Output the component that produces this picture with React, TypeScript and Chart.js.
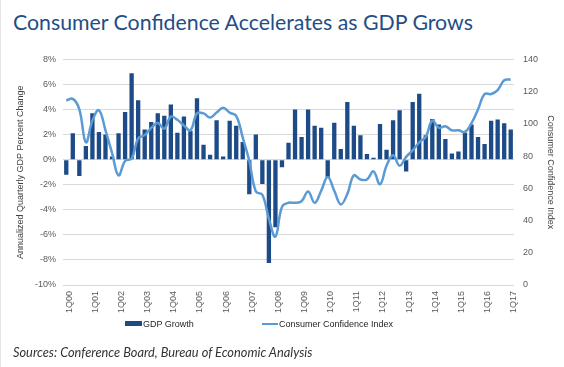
import React, { useEffect, useRef } from "react";
import { Chart, registerables } from "chart.js";

Chart.register(...registerables);

const QUARTERS = [
  "1Q00","2Q00","3Q00","4Q00","1Q01","2Q01","3Q01","4Q01",
  "1Q02","2Q02","3Q02","4Q02","1Q03","2Q03","3Q03","4Q03",
  "1Q04","2Q04","3Q04","4Q04","1Q05","2Q05","3Q05","4Q05",
  "1Q06","2Q06","3Q06","4Q06","1Q07","2Q07","3Q07","4Q07",
  "1Q08","2Q08","3Q08","4Q08","1Q09","2Q09","3Q09","4Q09",
  "1Q10","2Q10","3Q10","4Q10","1Q11","2Q11","3Q11","4Q11",
  "1Q12","2Q12","3Q12","4Q12","1Q13","2Q13","3Q13","4Q13",
  "1Q14","2Q14","3Q14","4Q14","1Q15","2Q15","3Q15","4Q15",
  "1Q16","2Q16","3Q16","4Q16","1Q17",
];

const GDP_GROWTH = [
  -1.2, 2.1, -1.3, 1.1, 3.7, 2.2, 2.0, 0.25,
  2.1, 3.8, 6.9, 4.75, 2.4, 3.0, 3.7, 3.5,
  4.4, 2.15, 3.45, 2.3, 4.9, 1.2, 0.4, 3.15,
  0.25, 3.1, 2.7, 1.4, -2.75, 2.0, -1.95, -8.25,
  -5.4, -0.6, 1.35, 4.0, 1.8, 4.0, 2.7, 2.55,
  -1.4, 2.95, 0.85, 4.6, 2.7, 1.95, 0.45, 0.15,
  2.85, 0.8, 3.15, 3.95, -0.95, 4.6, 5.25, 1.95,
  3.25, 2.8, 1.65, 0.5, 0.65, 2.15, 2.8, 1.8,
  1.25, 3.1, 3.2, 2.9, 2.4,
];

const CONFIDENCE = [
  114.5, 115.5, 109, 88.5, 102, 108.5, 96, 82,
  68, 77, 78.5, 91, 93, 97.5, 100.5, 97,
  104.5, 102.5, 99, 96, 106.5, 106.5, 104, 107,
  110, 107, 105, 91.5, 77, 58, 56, 41,
  30, 48.5, 51, 51, 52, 58, 51, 58.5,
  67, 58.5, 50, 56.5, 68, 65.5, 65.5, 70.5,
  62.5, 74, 80.5, 74, 79.5, 83.5, 88.5, 92,
  102, 97.5, 98.5, 96, 96, 95, 100.5, 109,
  118.5, 118.5, 121, 127, 127.5,
];

const LEFT_TICKS = [-10, 8, 2];
const RIGHT_TICKS = [0, 140, 20];

const BAR_COLOR = "#1d4b87";
const LINE_COLOR = "#5b9bd5";
const TICK_COLOR = "#595959";
const FONT = "'Liberation Sans', Arial, sans-serif";

export default function App() {
  const ref = useRef<HTMLCanvasElement | null>(null);

  useEffect(() => {
    document.body.style.margin = "0";
    const canvas = ref.current;
    if (!canvas) return;
    const tickFont = { family: FONT, size: 9 };
    const chart = new Chart(canvas, {
      data: {
        labels: QUARTERS,
        datasets: [
          {
            type: "line",
            label: "Consumer Confidence Index",
            data: CONFIDENCE,
            yAxisID: "y1",
            borderColor: LINE_COLOR,
            backgroundColor: LINE_COLOR,
            borderWidth: 2.5,
            pointRadius: 0,
            tension: 0.4,
            order: 0,
          },
          {
            type: "bar",
            label: "GDP Growth",
            data: GDP_GROWTH,
            yAxisID: "y",
            backgroundColor: BAR_COLOR,
            barPercentage: 0.66,
            categoryPercentage: 1,
            order: 1,
          },
        ],
      } as any,
      options: {
        responsive: false,
        animation: false,
        layout: { padding: { top: 14, left: 0, right: 0, bottom: 0 } },
        plugins: { legend: { display: false }, tooltip: { enabled: false } },
        scales: {
          x: {
            offset: true,
            grid: { display: false, drawTicks: false },
            border: { display: false },
            ticks: {
              autoSkip: false,
              minRotation: 90,
              maxRotation: 90,
              padding: 6,
              labelOffset: 3,
              font: tickFont,
              color: TICK_COLOR,
              callback: (_v: any, i: number) =>
                QUARTERS[i].startsWith("1Q") ? QUARTERS[i] : "",
            },
            afterFit: (s: any) => {
              s.height = 40;
            },
          },
          y: {
            position: "left",
            min: LEFT_TICKS[0],
            max: LEFT_TICKS[1],
            ticks: {
              stepSize: LEFT_TICKS[2],
              padding: 7,
              font: tickFont,
              color: TICK_COLOR,
              callback: (v: any) => v + "%",
            },
            grid: { color: "#d9d9d9", drawTicks: false, lineWidth: 1 },
            border: { display: false },
            title: {
              display: true,
              text: "Annualized Quarterly GDP Percent Change",
              font: { family: FONT, size: 9 },
              color: "#404040",
              padding: { top: 14, bottom: 0 },
            },
            afterFit: (s: any) => {
              s.width = 62;
            },
          },
          y1: {
            position: "right",
            min: RIGHT_TICKS[0],
            max: RIGHT_TICKS[1],
            ticks: {
              stepSize: RIGHT_TICKS[2],
              padding: 9,
              font: tickFont,
              color: TICK_COLOR,
            },
            grid: { display: false, drawTicks: false },
            border: { display: false },
            title: {
              display: true,
              text: "Consumer Confidence Index",
              font: { family: FONT, size: 9 },
              color: "#404040",
              padding: { top: 8, bottom: 0 },
            },
            afterFit: (s: any) => {
              s.width = 50;
            },
          },
        },
      } as any,
    });
    return () => chart.destroy();
  }, []);

  return (
    <div
      style={{
        position: "absolute",
        left: 0,
        top: 0,
        width: 564,
        height: 367,
        background: "#fff",
        overflow: "hidden",
        borderLeft: "1px solid #e3e3e3",
        boxSizing: "border-box",
      }}
    >
      <div
        style={{
          position: "absolute",
          left: 12,
          top: 9,
          fontFamily: "Lato, 'Noto Sans', sans-serif",
          fontSize: 21.3,
          lineHeight: "26px",
          color: "#1f4e86",
          whiteSpace: "nowrap",
        }}
      >
        Consumer Confidence Accelerates as GDP Grows
      </div>
      <canvas
        ref={ref}
        width={563}
        height={280}
        style={{ position: "absolute", left: 0, top: 45, width: 563, height: 280 }}
      />
      <div
        style={{
          position: "absolute",
          top: 318,
          left: 0,
          height: 12,
          width: 563,
          fontFamily: FONT,
          fontSize: 9,
          color: "#262626",
        }}
      >
        <div style={{ position: "absolute", left: 124, top: 3, width: 17, height: 5, background: BAR_COLOR }} />
        <div style={{ position: "absolute", left: 142, top: 0, lineHeight: "12px" }}>GDP Growth</div>
        <div style={{ position: "absolute", left: 261, top: 4.5, width: 16, height: 2.5, background: LINE_COLOR }} />
        <div style={{ position: "absolute", left: 278, top: 0, lineHeight: "12px" }}>Consumer Confidence Index</div>
      </div>
      <div
        style={{
          position: "absolute",
          left: 12,
          top: 344,
          fontFamily: "Lato, 'Noto Sans', sans-serif",
          fontStyle: "italic",
          fontSize: 12.8,
          lineHeight: "16px",
          color: "#333",
          whiteSpace: "nowrap",
        }}
      >
        Sources: Conference Board, Bureau of Economic Analysis
      </div>
    </div>
  );
}
